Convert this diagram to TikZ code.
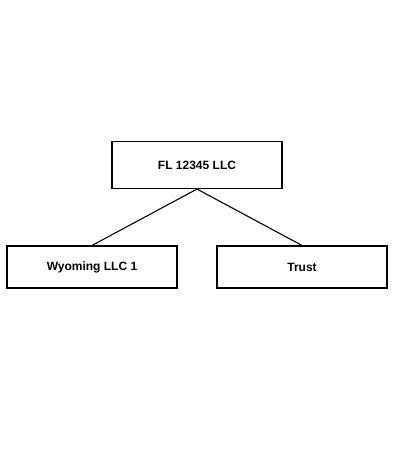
\documentclass[tikz,border=0pt]{standalone}
\usepackage{fontspec}
\setmainfont{Liberation Sans}
\begin{document}
\begin{tikzpicture}[x=1pt,y=-1pt,line width=1.1pt,
  entity/.style={draw,minimum width=170pt,inner sep=0pt,
    font=\fontsize{12}{14}\selectfont\bfseries}]
  \useasboundingbox (0,0) rectangle (400,456);
  \node[entity,minimum height=47pt] (fl) at (197,165) {FL 12345 LLC};
  \node[entity,minimum height=42pt] (wyo) at (92,267) {Wyoming LLC 1};
  \node[entity,minimum height=42pt] (trust) at (302,267) {Trust};
  \draw (fl.south) -- (wyo.north)
    (fl.south) -- (trust.north);
\end{tikzpicture}
\end{document}
